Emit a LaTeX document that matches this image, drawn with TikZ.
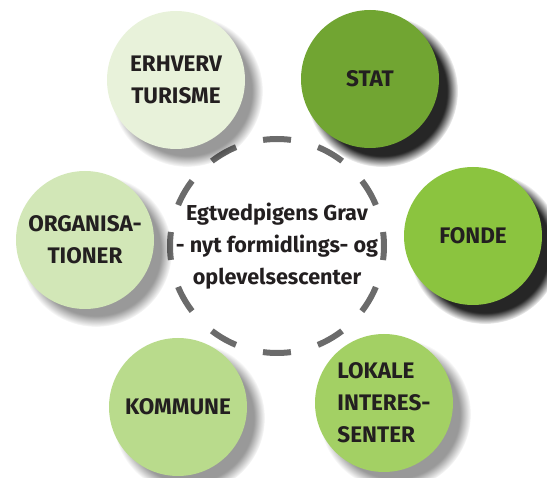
\documentclass[tikz,border=0pt]{standalone}
\usepackage{fontspec}
\setmainfont{Fira Sans}
\usetikzlibrary{shadows}

\definecolor{erhvervgreen}{HTML}{E8F2DA}
\definecolor{statgreen}{HTML}{71A532}
\definecolor{orggreen}{HTML}{D2E7B7}
\definecolor{fondegreen}{HTML}{8BC43F}
\definecolor{kommunegreen}{HTML}{B9DB8C}
\definecolor{lokalegreen}{HTML}{A3D064}
\definecolor{dashgray}{HTML}{6B6B6B}
\definecolor{textdark}{HTML}{231F20}

\begin{document}
\begin{tikzpicture}[x=1pt,y=-1pt,
  actor/.style={circle, minimum size=138pt, inner sep=0pt, text=textdark,
    font=\fontsize{22.5}{32}\selectfont\bfseries, align=center},
  lightshadow/.style={circular drop shadow={shadow xshift=10pt, shadow yshift=-10pt,
    shadow scale=1.1, fill=black, opacity=.4}},
  darkshadow/.style={circular drop shadow={shadow xshift=11pt, shadow yshift=-11pt,
    shadow scale=1.1, fill=black, opacity=.85}}]
\useasboundingbox (0,0) rectangle (547,478);

% center
\node[circle, minimum size=214pt, inner sep=0pt, draw=dashgray, line width=6pt,
  dash pattern=on 28pt off 28.02pt, dash phase=14pt] (grav) at (277,246) {};
\node[text=textdark, align=center, inner sep=0pt,
  font=\fontsize{21.6}{32}\selectfont\bfseries] (gravtext) at (grav)
  {Egtvedpigens Grav\\- nyt formidlings- og\\oplevelsescenter};

% actors
\node[actor, fill=erhvervgreen, lightshadow] (erhverv) at (176,80) {ERHVERV\\TURISME};
\node[actor, fill=statgreen, darkshadow] (stat) at (370,79) {STAT};
\node[actor, fill=orggreen, lightshadow] (org) at (85,240) {ORGANISA-\\TIONER};
\node[actor, fill=fondegreen, darkshadow] (fonde) at (473,236) {FONDE};
\node[actor, fill=kommunegreen, lightshadow] (kommune) at (178,407) {KOMMUNE};
\node[actor, fill=lokalegreen, lightshadow, align=left] (lokale) at (384,403)
  {LOKALE\\INTERES-\\SENTER};
\end{tikzpicture}
\end{document}
